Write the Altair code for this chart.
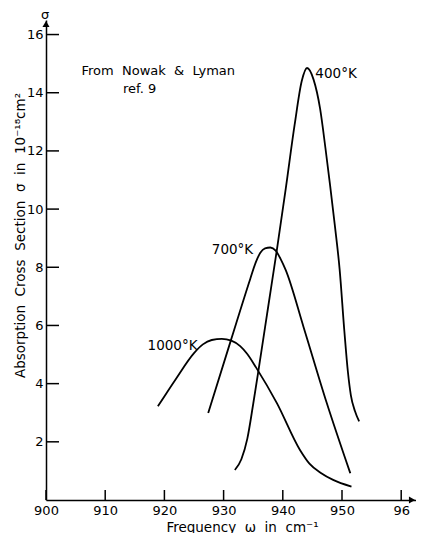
import altair as alt
import pandas as pd

# ---- data ----
x_400 = [931.9, 933.0, 934.0, 935.0, 936.0, 937.5, 939.0, 940.5, 942.0, 943.2, 944.1,
         945.2, 946.3, 947.2, 948.0, 948.8, 949.6, 950.4, 951.0, 951.5, 952.2, 952.9]
y_400 = [1.03, 1.4, 2.1, 3.3, 4.6, 6.6, 8.6, 10.7, 12.9, 14.4, 14.85,
         14.45, 13.45, 12.1, 10.8, 9.42, 7.93, 5.8, 4.4, 3.6, 3.05, 2.7]

x_700 = [927.4, 931.2, 934.5, 935.4, 936.2, 937.0, 937.9, 938.8, 939.6, 940.5,
         943.5, 947.4, 951.4]
y_700 = [2.99, 5.47, 7.6, 8.15, 8.5, 8.65, 8.68, 8.57, 8.3, 7.9,
         5.95, 3.35, 0.92]

x_1000 = [918.9, 922.0, 925.0, 926.5, 928.0, 929.7, 931.3, 932.8, 934.0, 935.5,
          939.0, 942.9, 944.5, 946.5, 948.5, 951.6]
y_1000 = [3.22, 4.18, 5.05, 5.35, 5.5, 5.54, 5.48, 5.29, 5.02, 4.55,
          3.33, 1.72, 1.25, 0.92, 0.69, 0.46]

series_names = ["400°K", "700°K", "1000°K"]

x_ticks = [900, 910, 920, 930, 940, 950, 960]
y_ticks = [2, 4, 6, 8, 10, 12, 14, 16]
x_domain = [900, 962.5]
y_domain = [0, 16.5]

label_left_text = ["400°K"]
label_left_x = [945.5]
label_left_y = [14.65]

label_right_text = ["700°K", "1000°K"]
label_right_x = [935.0, 925.6]
label_right_y = [8.6, 5.29]

NB = "\u00a0"
note_text = [f"From{NB}{NB}Nowak{NB}{NB}&{NB}{NB}Lyman", "ref. 9"]
note_x = [906.0, 913.0]
note_y = [14.76, 14.14]

x_title = f"Frequency{NB}{NB}ω{NB}{NB}in{NB}{NB}cm⁻¹"
y_title = f"Absorption{NB}{NB}Cross{NB}{NB}Section{NB}{NB}σ{NB}{NB}in{NB}{NB}10⁻¹⁸cm²"

FONT = "DejaVu Sans"

rows = []
for name, xs, ys in zip(series_names, [x_400, x_700, x_1000], [y_400, y_700, y_1000]):
    for i, (a, b) in enumerate(zip(xs, ys)):
        rows.append({"series": name, "x": a, "y": b, "order": i})
lines_df = pd.DataFrame(rows)

xscale = alt.Scale(domain=x_domain, nice=False, zero=False)
yscale = alt.Scale(domain=y_domain, nice=False, zero=False)

x_axis = alt.Axis(
    values=x_ticks, labelExpr="datum.value == 960 ? '96' : datum.label",
    ticks=False, grid=False, domainColor="black", domainWidth=1.5, labelFlush=False,
    labelFont=FONT, labelFontSize=13, labelColor="black", labelPadding=4,
    title=x_title, titleFont=FONT, titleFontSize=13.5,
    titleFontWeight="normal", titleColor="black", titleX=196, titleY=27,
    titleBaseline="middle", titleAlign="center",
)
y_axis = alt.Axis(
    values=y_ticks, ticks=False, grid=False, domainColor="black", domainWidth=1.5,
    labelFont=FONT, labelFontSize=13, labelColor="black", labelPadding=3,
    title=y_title, titleFont=FONT,
    titleFontSize=13.5, titleFontWeight="normal", titleColor="black",
    titleX=-26, titleY=215, titleAngle=270, titleBaseline="middle", titleAlign="center",
)


def X(field):
    return alt.X(field, scale=xscale, axis=x_axis)


def Y(field):
    return alt.Y(field, scale=yscale, axis=y_axis)


lines = alt.Chart(lines_df).mark_line(
    interpolate="monotone", color="black", strokeWidth=1.8
).encode(
    x=X("x:Q"), y=Y("y:Q"),
    detail="series:N",
    order="order:Q",
)

xt_df = pd.DataFrame({"x": x_ticks, "y": [y_domain[0]] * len(x_ticks)})
x_tick_marks = alt.Chart(xt_df).mark_point(
    shape="M0,0L0,-1", size=400, filled=False, stroke="black", strokeWidth=1.5, opacity=1
).encode(x=X("x:Q"), y=Y("y:Q"))

yt_df = pd.DataFrame({"x": [x_domain[0]] * len(y_ticks), "y": y_ticks})
y_tick_marks = alt.Chart(yt_df).mark_point(
    shape="M0,0L1,0", size=676, filled=False, stroke="black", strokeWidth=1.5, opacity=1
).encode(x=X("x:Q"), y=Y("y:Q"))

arrow_x = alt.Chart(pd.DataFrame({"x": [x_domain[1]], "y": [y_domain[0]]})).mark_point(
    shape="triangle-right", size=50, filled=True, color="black", opacity=1, xOffset=-4
).encode(x=X("x:Q"), y=Y("y:Q"))

arrow_y = alt.Chart(pd.DataFrame({"x": [x_domain[0]], "y": [y_domain[1]]})).mark_point(
    shape="triangle-up", size=50, filled=True, color="black", opacity=1, yOffset=4
).encode(x=X("x:Q"), y=Y("y:Q"))

sigma = alt.Chart(pd.DataFrame({"x": [x_domain[0]], "y": [y_domain[1]], "t": ["σ"]})).mark_text(
    font=FONT, fontSize=13, color="black", dy=-5, dx=-1, baseline="middle"
).encode(x=X("x:Q"), y=Y("y:Q"), text="t:N")

left_labels = alt.Chart(pd.DataFrame({"x": label_left_x, "y": label_left_y, "t": label_left_text})).mark_text(
    font=FONT, fontSize=13.5, color="black", align="left", baseline="middle"
).encode(x=X("x:Q"), y=Y("y:Q"), text="t:N")

right_labels = alt.Chart(pd.DataFrame({"x": label_right_x, "y": label_right_y, "t": label_right_text})).mark_text(
    font=FONT, fontSize=13.5, color="black", align="right", baseline="middle"
).encode(x=X("x:Q"), y=Y("y:Q"), text="t:N")

notes = alt.Chart(pd.DataFrame({"x": note_x, "y": note_y, "t": note_text})).mark_text(
    font=FONT, fontSize=13, color="black", align="left", baseline="middle"
).encode(x=X("x:Q"), y=Y("y:Q"), text="t:N")

chart = alt.layer(
    lines, x_tick_marks, y_tick_marks, arrow_x, arrow_y, sigma, left_labels, right_labels, notes
).properties(
    width=370, height=480,
    autosize=alt.AutoSizeParams(type="none"),
    padding={"left": 38, "top": 12, "right": 0, "bottom": 33},
    background="white",
).configure_view(stroke=None)

chart.save("out.html", embed_options={"renderer": "svg", "actions": False})
